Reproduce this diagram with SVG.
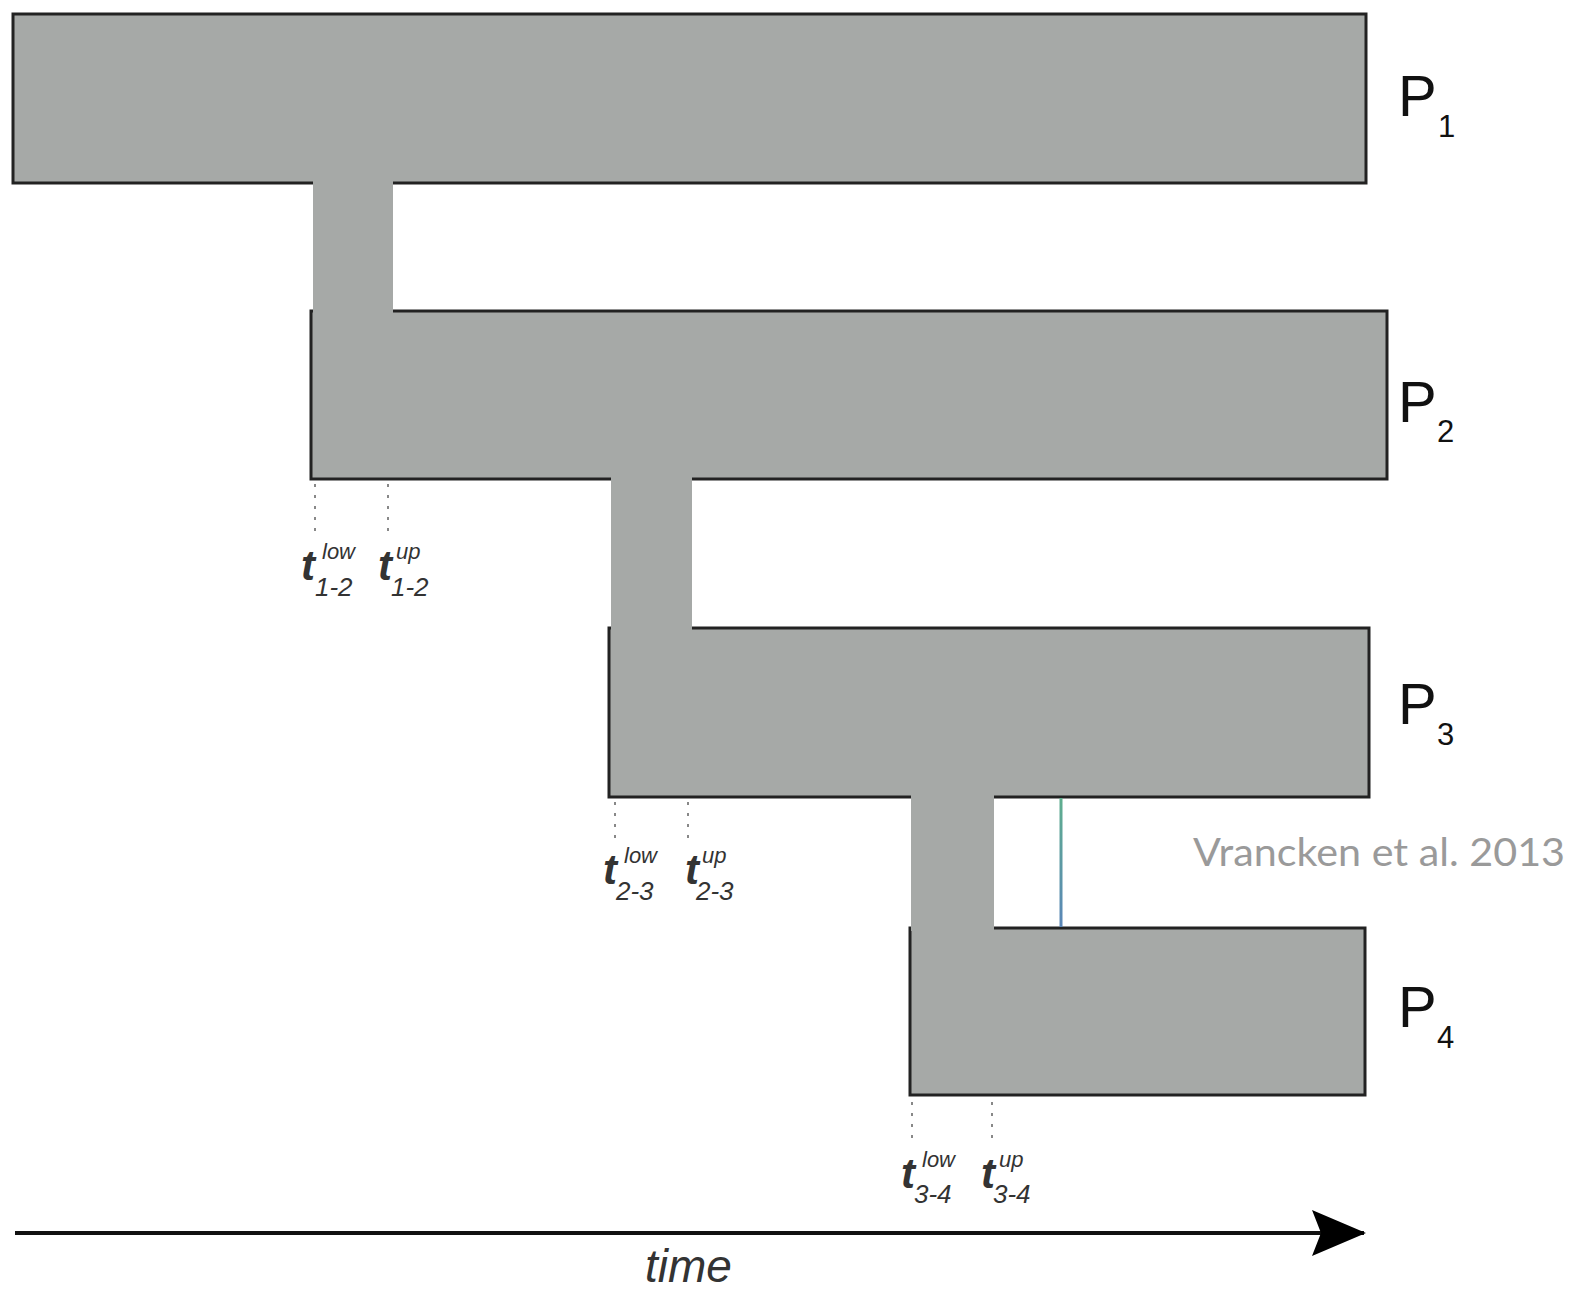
<svg xmlns="http://www.w3.org/2000/svg" width="1573" height="1289" viewBox="0 0 1573 1289">
  <defs>
    <style>
      .box { fill: #a6a9a7; stroke: #222; stroke-width: 3; }
      .bridge { fill: #a6a9a7; stroke: none; }
      .tick { stroke: #888; stroke-width: 2; stroke-dasharray: 3 8; }
      .plabel { font-family: "Liberation Sans", Arial, sans-serif; fill: #111; }
      .p { font-size: 58px; }
      .psub { font-size: 31px; }
      .tlab { font-family: "Liberation Sans", Arial, sans-serif; font-style: italic; fill: #333; }
      .t { font-size: 42px; font-weight: bold; }
      .sup { font-size: 22px; }
      .sub { font-size: 26px; }
    </style>
    <linearGradient id="tealBlue" gradientUnits="userSpaceOnUse" x1="0" y1="798" x2="0" y2="927">
      <stop offset="0" stop-color="#5fae8e"/>
      <stop offset="1" stop-color="#5a86b8"/>
    </linearGradient>
    <marker id="arrowHead" viewBox="0 0 54 46" refX="52" refY="23" markerWidth="54" markerHeight="46" markerUnits="userSpaceOnUse" orient="auto">
      <path d="M0,0 L54,23 L0,46 L9,23 Z" fill="#000"/>
    </marker>
  </defs>

  <!-- populations -->
  <g id="P1">
    <rect class="box" x="13" y="14" width="1353" height="169"/>
    <text class="plabel p" x="1398" y="116">P</text>
    <text class="plabel psub" x="1438" y="137">1</text>
  </g>
  <g id="P2">
    <rect class="box" x="311" y="311" width="1076" height="168"/>
    <text class="plabel p" x="1398" y="422">P</text>
    <text class="plabel psub" x="1437" y="442">2</text>
  </g>
  <g id="P3">
    <rect class="box" x="609" y="628" width="760" height="169"/>
    <text class="plabel p" x="1398" y="724">P</text>
    <text class="plabel psub" x="1437" y="745">3</text>
  </g>
  <g id="P4">
    <rect class="box" x="910" y="928" width="455" height="167"/>
    <text class="plabel p" x="1398" y="1027">P</text>
    <text class="plabel psub" x="1437" y="1048">4</text>
  </g>

  <!-- split bridges between consecutive populations -->
  <g id="connectors">
    <rect class="bridge" x="313" y="180" width="80" height="134"/>
    <rect class="bridge" x="611" y="477" width="81" height="154"/>
    <rect class="bridge" x="911" y="795" width="83" height="136"/>
    <line x1="1061" y1="798" x2="1061" y2="927" stroke="url(#tealBlue)" stroke-width="3"/>
  </g>

  <!-- split time bounds -->
  <g id="bounds-1-2">
    <line class="tick" x1="315" y1="484" x2="315" y2="536"/>
    <line class="tick" x1="388" y1="484" x2="388" y2="536"/>
    <text class="tlab t" x="301" y="580">t</text>
    <text class="tlab sup" x="322" y="559">low</text>
    <text class="tlab sub" x="315" y="596">1-2</text>
    <text class="tlab t" x="378" y="580">t</text>
    <text class="tlab sup" x="396" y="559">up</text>
    <text class="tlab sub" x="391" y="596">1-2</text>
  </g>
  <g id="bounds-2-3">
    <line class="tick" x1="615" y1="802" x2="615" y2="840"/>
    <line class="tick" x1="688" y1="802" x2="688" y2="840"/>
    <text class="tlab t" x="603" y="884">t</text>
    <text class="tlab sup" x="624" y="863">low</text>
    <text class="tlab sub" x="616" y="900">2-3</text>
    <text class="tlab t" x="685" y="884">t</text>
    <text class="tlab sup" x="702" y="863">up</text>
    <text class="tlab sub" x="696" y="900">2-3</text>
  </g>
  <g id="bounds-3-4">
    <line class="tick" x1="912" y1="1102" x2="912" y2="1144"/>
    <line class="tick" x1="992" y1="1102" x2="992" y2="1144"/>
    <text class="tlab t" x="901" y="1188">t</text>
    <text class="tlab sup" x="922" y="1167">low</text>
    <text class="tlab sub" x="914" y="1203">3-4</text>
    <text class="tlab t" x="981" y="1188">t</text>
    <text class="tlab sup" x="999" y="1167">up</text>
    <text class="tlab sub" x="993" y="1203">3-4</text>
  </g>

  <!-- time axis -->
  <g id="time-axis">
    <line x1="15" y1="1233" x2="1364" y2="1233" stroke="#111" stroke-width="4" marker-end="url(#arrowHead)"/>
    <text class="tlab" x="645" y="1282" font-size="46" fill="#222">time</text>
  </g>

  <text x="1193" y="866" font-family="Lato, 'Open Sans', sans-serif" font-size="38" fill="#9a9a9a" textLength="372" lengthAdjust="spacingAndGlyphs">Vrancken et al. 2013</text>
</svg>
